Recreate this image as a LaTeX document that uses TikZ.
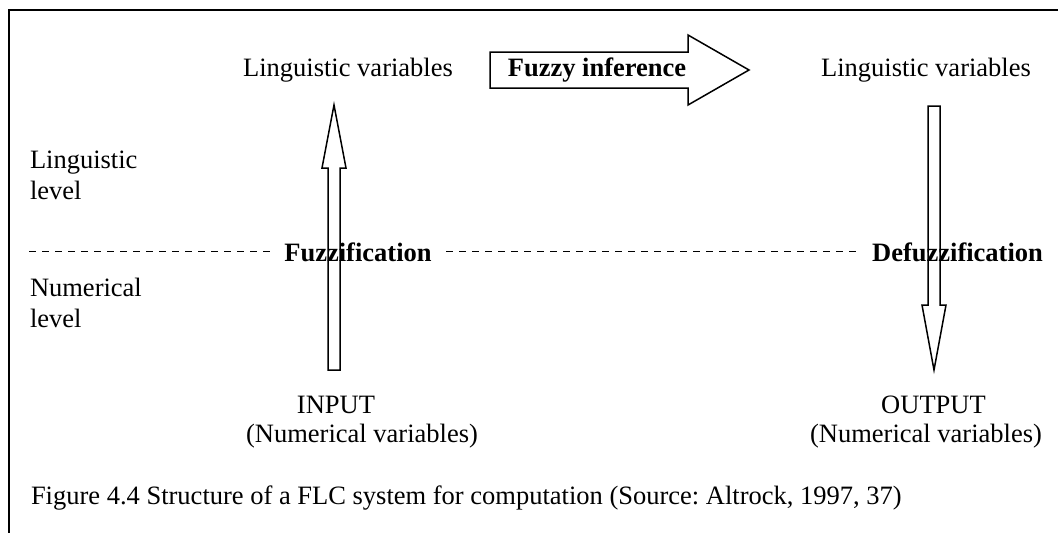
\documentclass[tikz,border=0pt]{standalone}
\usepackage{fontspec}
\setmainfont{Liberation Serif}
\frenchspacing
\begin{document}
\begin{tikzpicture}[x=1pt,y=-1pt,
  txt/.style={font=\fontsize{26.5}{31}\selectfont, inner sep=0pt, outer sep=0pt, anchor=base},
  bold/.style={txt, font=\fontsize{26.5}{31}\selectfont\bfseries},
  blockarrow/.style={draw=black, line width=1.5pt, fill=white, line join=miter},
  level/.style={dash pattern=on 7pt off 6pt, line width=1.1pt}]
\useasboundingbox (0,0) rectangle (1058,533);
% frame (top and left edges)
\draw[line width=2pt] (9,533) -- (9,9.5) -- (1058,9.5);

% top row
\node[txt] (lvL) at (348,76) {Linguistic variables};
\node[txt] (lvR) at (926,76) {Linguistic variables};

% bottom row
\node[txt] (in)  at (336,413) {INPUT};
\node[txt] (inv) at (362,442) {(Numerical variables)};
\node[txt] (out)  at (933.5,413) {OUTPUT};
\node[txt] (outv) at (926,442) {(Numerical variables)};

% level labels
\node[txt, anchor=base west] (ling1) at (30,168) {Linguistic};
\node[txt, anchor=base west] (ling2) at (30,199) {level};
\node[txt, anchor=base west] (num1)  at (30,296) {Numerical};
\node[txt, anchor=base west] (num2)  at (30,327) {level};

% dashed level boundary
\coordinate (d1) at (29,251.5);
\coordinate (d2) at (270,251.5);
\coordinate (d3) at (446,251.5);
\coordinate (d4) at (856,251.5);
\draw[level] (d1) -- (d2);
\draw[level] (d3) -- (d4);

% fuzzy inference block arrow
\draw[blockarrow] (490,52) -- (688,52) -- (688,35) -- (749,70) -- (688,105)
  -- (688,88) -- (490,88) -- cycle;
\node[bold] (fi) at (597,76) {Fuzzy inference};

% fuzzification block arrow (upwards)
\draw[blockarrow] (328,370) -- (328,168) -- (322,168) -- (334,105) -- (346,168)
  -- (340,168) -- (340,370) -- cycle;
% defuzzification block arrow (downwards)
\draw[blockarrow] (928,106) -- (928,305) -- (922,305) -- (934,370) -- (946,305)
  -- (940,305) -- (940,106) -- cycle;

\node[bold] (fz) at (358,261.5) {Fuzzification};
\node[bold] (dfz) at (957.5,261.5) {Defuzzification};

% caption
\node[txt, anchor=base west] (cap) at (31,504) {Figure 4.4 Structure of a FLC system for computation (Source: Altrock, 1997, 37)};
\end{tikzpicture}
\end{document}
